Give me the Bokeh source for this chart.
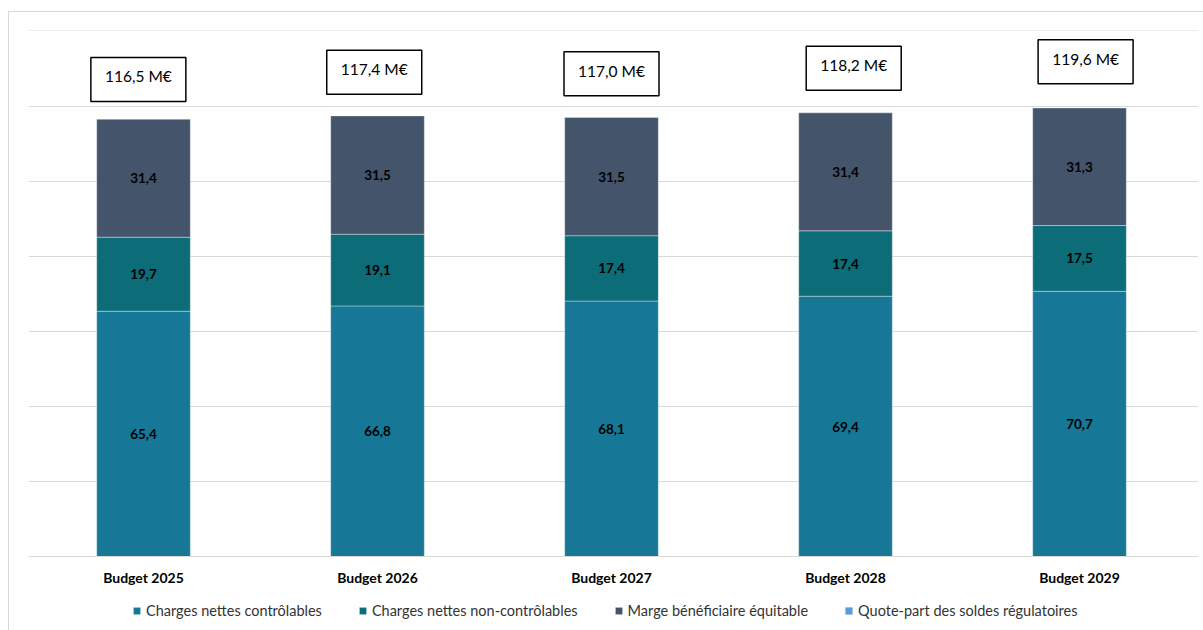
from bokeh.plotting import figure
from bokeh.models import Range1d, FixedTicker, Legend, LegendItem, ColumnDataSource
from bokeh.core.properties import value
from bokeh.embed import file_html
from bokeh.resources import INLINE

# ---- data ----
categories = ["Budget 2025", "Budget 2026", "Budget 2027", "Budget 2028", "Budget 2029"]
charges_controlables = [65.4, 66.8, 68.1, 69.4, 70.7]
charges_non_controlables = [19.7, 19.1, 17.4, 17.4, 17.5]
marge_beneficiaire = [31.4, 31.5, 31.5, 31.4, 31.3]
quote_part_soldes = [0.0, 0.0, 0.0, 0.0, 0.0]
totals = [116.5, 117.4, 117.0, 118.2, 119.6]
series_names = ["Charges nettes contrôlables", "Charges nettes non-contrôlables",
                "Marge bénéficiaire équitable", "Quote-part des soldes régulatoires"]

# ---- styles ----
colors = ["#167896", "#0C6C78", "#44546A", "#5B9BD5"]
FONT = "Lato"
box_above = [10.6, 11.6, 11.6, 11.9, 12.2]   # vertical placement of total boxes (data units above bar)
box_dx = [-0.022, -0.014, 0.0, 0.035, 0.026]  # small horizontal nudges of total boxes

xs = list(range(len(categories)))

def fmt(v):
    return f"{v:.1f}".replace(".", ",")

# frame extends below the zero line so the legend can sit inside it
p = figure(width=1195, height=619, output_backend="svg", toolbar_location=None,
           x_range=Range1d(-0.4915, 4.5085), y_range=Range1d(-19.87, 140.13),
           min_border_left=19, min_border_right=6, min_border_top=18, min_border_bottom=0)
p.margin = (11, 0, 0, 8)
p.styles = {"border-left": "1px solid #d9d9d9", "border-top": "1px solid #d9d9d9"}
p.outline_line_color = None
p.background_fill_color = "white"
p.border_fill_color = "white"

stack_keys = ["c1", "c2", "c3", "c4"]
src = ColumnDataSource(dict(x=xs, c1=charges_controlables, c2=charges_non_controlables,
                            c3=marge_beneficiaire, c4=quote_part_soldes))
renderers = p.vbar_stack(stack_keys, x="x", width=0.4, source=src,
                         fill_color=colors, line_color="white",
                         line_alpha=[0.35, 0.35, 0.35, 0.0], line_width=1)

# segment labels
seg_x, seg_y, seg_t = [], [], []
series_vals = [charges_controlables, charges_non_controlables, marge_beneficiaire]
for i in xs:
    base = 0.0
    for vals in series_vals:
        v = vals[i]
        seg_x.append(i)
        seg_y.append(base + v / 2)
        seg_t.append(fmt(v))
        base += v
p.text(x=seg_x, y=seg_y, text=seg_t, text_font=value(FONT), text_font_style="bold",
       text_font_size="13.5px", text_color="black", text_align="center", text_baseline="middle")

# total boxes
bx = [i + d for i, d in zip(xs, box_dx)]
by = [t + a for t, a in zip(totals, box_above)]
p.rect(x=bx, y=by, width=95, height=44, width_units="screen", height_units="screen",
       fill_color="white", line_color="black", line_width=1.5)
p.text(x=bx, y=by, text=[fmt(t) + " M€" for t in totals], text_font=value(FONT),
       text_font_size="15.5px", text_color="black", text_align="center",
       text_baseline="middle", y_offset=-3)

# axes / grid
p.yaxis.visible = False
p.yaxis.ticker = FixedTicker(ticks=[0, 20, 40, 60, 80, 100, 120, 140])
p.ygrid.grid_line_color = "#D9D9D9"
p.ygrid.grid_line_width = 1
p.xgrid.visible = False

p.xaxis.fixed_location = 0
p.xaxis.ticker = FixedTicker(ticks=xs)
p.xaxis.major_label_overrides = {i: c for i, c in zip(xs, categories)}
p.xaxis.axis_line_color = "#D9D9D9"
p.xaxis.major_tick_line_color = None
p.xaxis.minor_tick_line_color = None
p.xaxis.major_tick_out = 0
p.xaxis.major_label_standoff = 12
p.xaxis.major_label_text_font = FONT
p.xaxis.major_label_text_font_style = "bold"
p.xaxis.major_label_text_font_size = "14px"
p.xaxis.major_label_text_color = "black"

legend = Legend(items=[LegendItem(label=n, renderers=[r]) for n, r in zip(series_names, renderers)],
                orientation="horizontal", location=(104, 12),
                padding=0, margin=0, spacing=36, label_standoff=5,
                glyph_width=9, glyph_height=9, label_height=18,
                label_text_font=FONT, label_text_font_size="14.5px", label_text_color="#333333",
                border_line_color=None, background_fill_alpha=0)
p.add_layout(legend, "center")

open("out.html", "w").write(file_html(p, INLINE))
